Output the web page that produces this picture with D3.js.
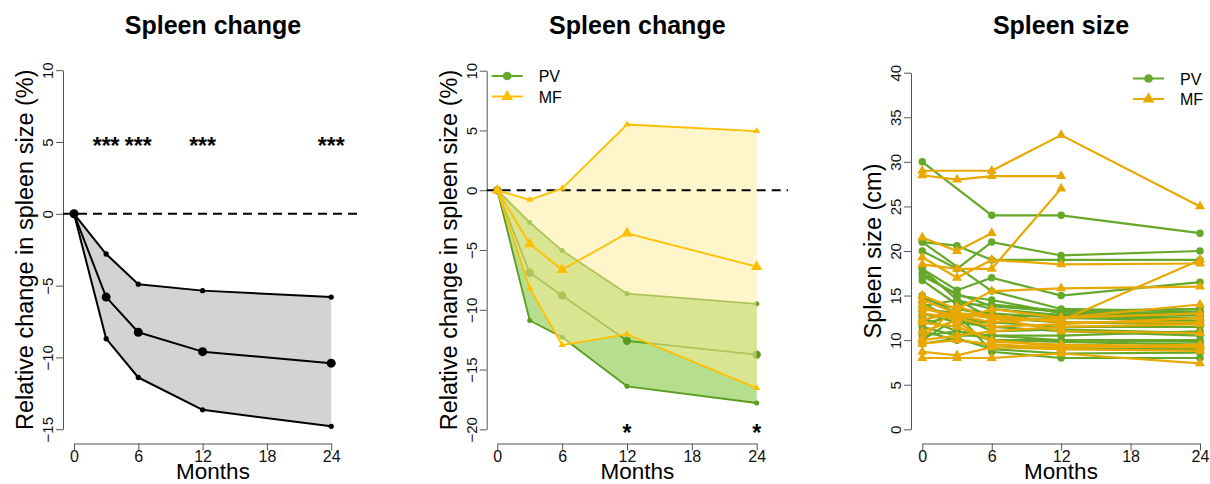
<!DOCTYPE html>
<html>
<head>
<meta charset="utf-8">
<script src="https://cdn.jsdelivr.net/npm/d3@7"></script>
<style>
  body { margin: 0; background: #fff; }
  svg { display: block; font-family: "Liberation Sans", Arial, Helvetica, sans-serif; }
</style>
</head>
<body>
<svg id="chart" width="1210" height="484"></svg>
<script>
'use strict';

var months = [0, 3, 6, 12, 24];
var monthTicks = [0, 6, 12, 18, 24];

// panel 1 - all patients, relative change in spleen size (%)
var allMean = [0, -5.8, -8.25, -9.6, -10.4];
var allUpper = [0, -2.8, -4.9, -5.35, -5.8];
var allLower = [0, -8.7, -11.4, -13.65, -14.8];
var allStarMonths = [3, 6, 12, 24];
var allStarLabels = ['***', '***', '***', '***'];
var changeTicks1 = [-15, -10, -5, 0, 5, 10];

// panel 2 - PV vs MF
var pvMean = [0, -6.9, -8.8, -12.6, -13.75];
var pvUpper = [0, -2.7, -5.05, -8.65, -9.5];
var pvLower = [0, -10.9, -12.3, -16.4, -17.8];
var mfMean = [0, -4.5, -6.65, -3.6, -6.4];
var mfUpper = [0, -0.8, 0.15, 5.5, 4.95];
var mfLower = [0, -8.2, -12.95, -12.05, -16.55];
var groupStarMonths = [12, 24];
var groupStarLabels = ['*', '*'];
var changeTicks2 = [-20, -15, -10, -5, 0, 5, 10];
var groupNames = ['PV', 'MF'];

// panel 3 - spleen size (cm) per patient at 0, 3, 6, 12, 24 months (null = no visit)
var pvSizes = [
  [30, null, 24, 24, 22],
  [21, 20.6, 19, 19, 19],
  [20, 18, 21, 19.5, 20],
  [18, 15.6, 17, 15, 16.5],
  [21, null, 15.5, 13.5, 13.2],
  [17.5, 15, 14.5, 13, 12.8],
  [16.7, 14, 14, 13.3, 13.5],
  [14.7, 13.5, 13, 12.5, 12.5],
  [14.2, 12, 11.5, 11, 10.5],
  [13.5, 13, 12.5, 12, 12],
  [13, 12, 12, 11.5, 11.5],
  [12.5, 11, 10.5, 10, 10],
  [12, 11.5, 10, 9.8, 9.5],
  [11.5, 10.5, 10.5, 10.5, 11],
  [11, 10, 9.5, 9, 9],
  [10.5, 11, 10, 10, 9.8],
  [10, 12.5, 12, 12.5, 12.2],
  [13.8, 14.5, 13.5, 12.8, 13],
  [11.8, 12.8, 11, 11.2, 10.8],
  [9.6, 10.2, 9, 8.5, 8.6],
  [15, 13, 8.7, 8, 8],
  [12.2, 13.5, 12.8, 12, 11.8],
  [18, 14.5, 12.5, 12.8, 12.5],
  [17.2, 15.2, 13.8, 13.2, 13]
];
var mfSizes = [
  [29, null, 29, 33, 25],
  [28.5, 28, 28.4, 28.4, null],
  [21.5, 20, 22, null, null],
  [18.5, 18, 18, 27, null],
  [19.3, 17, 19, 18.5, 18.6],
  [15, 13.5, 15.5, 15.8, 16],
  [14.5, 13, 12.5, 12.2, 19],
  [13.5, 12.8, 12, 12.5, 14],
  [13, 12.5, 11.5, 11.8, 12.5],
  [12.3, 13, 12.8, 12, 12],
  [12, 11.5, 10, 9.3, 9.2],
  [10, 10.5, 11, 11.5, 11.8],
  [9.6, 10, 9.5, 9.2, 9.5],
  [8.7, 8.3, 9.2, 9, 8.8],
  [8, 8, 8, 8.5, 7.4],
  [14, 12, 9.8, 9.5, 9.3],
  [11, 12.2, 13.5, 12.5, 13],
  [10.2, 13.8, 12.5, 11, 10.8]
];
var sizeTicks = [0, 5, 10, 15, 20, 25, 30, 35, 40];

var GREEN = '#66a82a';
var GREEN_DARK = '#5a9c1e';
var YELLOW = '#ffbf00';
var ORANGE = '#e8a800';
var AXIS_Y = 443.5;

var svg = d3.select('#chart');

function translate(x, y) {
  return 'translate(' + x + ', ' + y + ')';
}

function toPoints(values) {
  return months.map(function (m, i) {
    return {m: m, v: values[i]};
  }).filter(function (d) {
    return d.v !== null;
  });
}

// R style frame: axes only span the ticks, rotated y tick labels
function makeFrame(cfg) {
  var g = svg.append('g');
  var x = d3.scaleLinear().domain([0, 24]).range(cfg.xRange);
  var y = d3.scaleLinear().domain(d3.extent(cfg.yTicks)).range(cfg.yRange);

  var xAxis = g.append('g')
    .attr('transform', translate(0, AXIS_Y))
    .call(d3.axisBottom(x).tickValues(monthTicks).tickSize(7).tickSizeOuter(0));
  xAxis.selectAll('text')
    .attr('y', 7)
    .attr('dy', '0.7em');

  var yAxis = g.append('g')
    .attr('transform', translate(cfg.left, 0))
    .call(d3.axisLeft(y).tickValues(cfg.yTicks).tickSize(7).tickSizeOuter(0));
  yAxis.selectAll('text')
    .attr('transform', 'rotate(-90)')
    .attr('x', 0)
    .attr('y', -10)
    .attr('dy', 0)
    .attr('text-anchor', 'middle');

  g.selectAll('.domain, .tick line').attr('stroke', '#555');
  g.selectAll('.tick text').attr('fill', '#111');
  xAxis.attr('font-size', 16).attr('font-family', null);
  yAxis.attr('font-size', 15).attr('font-family', null);

  var mid = (cfg.left + cfg.right) / 2;
  g.append('text')
    .attr('x', mid)
    .attr('y', 34)
    .attr('text-anchor', 'middle')
    .attr('font-size', 25)
    .attr('font-weight', 'bold')
    .text(cfg.title);

  g.append('text')
    .attr('x', mid)
    .attr('y', 479)
    .attr('text-anchor', 'middle')
    .attr('font-size', 22.5)
    .text('Months');

  g.append('text')
    .attr('transform', translate(cfg.left - 30, (cfg.yRange[0] + cfg.yRange[1]) / 2) + ' rotate(-90)')
    .attr('text-anchor', 'middle')
    .attr('font-size', 23.5)
    .text(cfg.yLabel);

  return {g: g, x: x, y: y, left: cfg.left, right: cfg.right};
}

function drawBand(f, upper, lower, fill, opacity) {
  var pts = toPoints(upper).concat(toPoints(lower).reverse());
  f.g.append('path')
    .attr('d', d3.line().x(function (d) { return f.x(d.m); }).y(function (d) { return f.y(d.v); })(pts) + 'Z')
    .attr('fill', fill)
    .attr('fill-opacity', opacity);
}

function drawSeries(f, values, color, width, shape, size) {
  var pts = toPoints(values);
  var line = d3.line()
    .x(function (d) { return f.x(d.m); })
    .y(function (d) { return f.y(d.v); });
  f.g.append('path')
    .attr('d', line(pts))
    .attr('fill', 'none')
    .attr('stroke', color)
    .attr('stroke-width', width)
    .attr('stroke-linejoin', 'round');
  f.g.append('g').selectAll('path')
    .data(pts)
    .enter()
    .append('path')
    .attr('transform', function (d) { return translate(f.x(d.m), f.y(d.v)); })
    .attr('d', d3.symbol().type(shape).size(size))
    .attr('fill', color);
}

function drawZeroLine(f) {
  f.g.append('line')
    .attr('x1', f.left)
    .attr('x2', f.right)
    .attr('y1', f.y(0))
    .attr('y2', f.y(0))
    .attr('stroke', '#000')
    .attr('stroke-width', 2)
    .attr('stroke-dasharray', '9,6');
}

function drawStars(f, starMonths, labels, value) {
  f.g.append('g').selectAll('text')
    .data(starMonths)
    .enter()
    .append('text')
    .attr('x', function (d) { return f.x(d); })
    .attr('y', f.y(value) + 12)
    .attr('text-anchor', 'middle')
    .attr('font-size', 23)
    .attr('font-weight', 'bold')
    .text(function (d, i) { return labels[i]; });
}

function drawLegend(f, x0, y0, colors) {
  var shapes = [d3.symbolCircle, d3.symbolTriangle];
  groupNames.forEach(function (name, i) {
    var yy = y0 + i * 20.5;
    f.g.append('line')
      .attr('x1', x0)
      .attr('x2', x0 + 31)
      .attr('y1', yy)
      .attr('y2', yy)
      .attr('stroke', colors[i])
      .attr('stroke-width', 2);
    f.g.append('path')
      .attr('transform', translate(x0 + 15.5, yy))
      .attr('d', d3.symbol().type(shapes[i]).size(60))
      .attr('fill', colors[i]);
    f.g.append('text')
      .attr('x', x0 + 47)
      .attr('y', yy + 6)
      .attr('font-size', 16)
      .text(name);
  });
}

// ---- panel 1
var p1 = makeFrame({
  title: 'Spleen change',
  yLabel: 'Relative change in spleen size (%)',
  xRange: [74, 331.2],
  yRange: [429.2, 70.2],
  yTicks: changeTicks1,
  left: 63,
  right: 363
});
drawBand(p1, allUpper, allLower, '#d3d3d3', 1);
drawZeroLine(p1);
drawSeries(p1, allUpper, '#000', 2, d3.symbolCircle, 22);
drawSeries(p1, allLower, '#000', 2, d3.symbolCircle, 22);
drawSeries(p1, allMean, '#000', 2, d3.symbolCircle, 64);
drawStars(p1, allStarMonths, allStarLabels, 5);

// ---- panel 2
var p2 = makeFrame({
  title: 'Spleen change',
  yLabel: 'Relative change in spleen size (%)',
  xRange: [497.3, 756.7],
  yRange: [429.3, 70.7],
  yTicks: changeTicks2,
  left: 486.7,
  right: 788
});
drawBand(p2, pvUpper, pvLower, '#6cbf1e', 0.5);
drawSeries(p2, pvUpper, GREEN_DARK, 1.8, d3.symbolCircle, 20);
drawSeries(p2, pvLower, GREEN_DARK, 1.8, d3.symbolCircle, 20);
drawSeries(p2, pvMean, GREEN_DARK, 1.8, d3.symbolCircle, 55);
drawBand(p2, mfUpper, mfLower, '#ffeb96', 0.5);
drawZeroLine(p2);
drawSeries(p2, mfUpper, YELLOW, 1.8, d3.symbolTriangle, 22);
drawSeries(p2, mfLower, YELLOW, 1.8, d3.symbolTriangle, 22);
drawSeries(p2, mfMean, YELLOW, 1.8, d3.symbolTriangle, 55);
drawStars(p2, groupStarMonths, groupStarLabels, -20);
drawLegend(p2, 491.7, 76, [GREEN, YELLOW]);

// ---- panel 3
var p3 = makeFrame({
  title: 'Spleen size',
  yLabel: 'Spleen size (cm)',
  xRange: [922.3, 1200],
  yRange: [429.3, 72.7],
  yTicks: sizeTicks,
  left: 911,
  right: 1211
});
pvSizes.forEach(function (row) {
  drawSeries(p3, row, GREEN, 2.2, d3.symbolCircle, 44);
});
mfSizes.forEach(function (row) {
  drawSeries(p3, row, ORANGE, 2.2, d3.symbolTriangle, 44);
});
drawLegend(p3, 1133, 78.5, [GREEN, ORANGE]);
</script>
</body>
</html>
